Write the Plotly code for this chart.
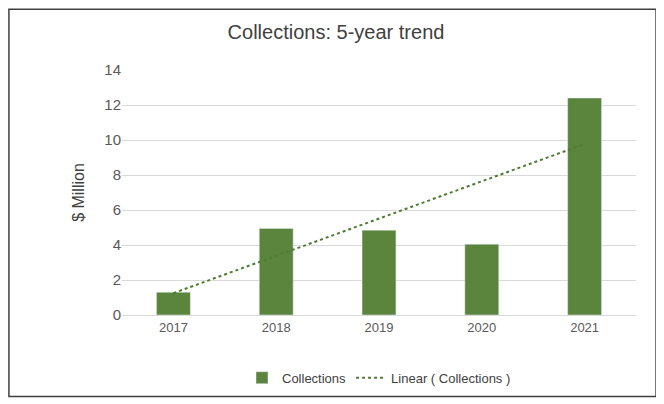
import numpy as np
import plotly.graph_objects as go

years = ["2017", "2018", "2019", "2020", "2021"]
collections = [1.3, 4.95, 4.85, 4.05, 12.4]

# least-squares trend over the bar values, like the spreadsheet's linear trendline
idx = np.arange(len(years))
slope, icpt = np.polyfit(idx, collections, 1)
trend = slope * idx + icpt

green = "#5B843D"
font = "Liberation Sans"

fig = go.Figure()
fig.add_trace(go.Bar(x=years, y=collections, name="Collections",
                     marker_color=green))
fig.add_trace(go.Scatter(x=years, y=trend, mode="lines",
                         name="Linear ( Collections )",
                         line=dict(color="#4E7A32", width=2, dash="dot")))

fig.update_layout(
    width=656, height=396,
    margin=dict(l=114, r=28, t=62, b=88),
    paper_bgcolor="white", plot_bgcolor="white",
    font=dict(family=font, color="#595959", size=13),
    title=dict(text="Collections: 5-year trend", x=0.5, xanchor="center",
               y=0.939, yanchor="middle",
               font=dict(size=20, color="#404040")),
    bargap=0.67,
    showlegend=True,
    legend=dict(orientation="h", x=0.5, xanchor="center", y=-0.19,
                yanchor="top", font=dict(size=13, color="#404040")),
    xaxis=dict(showline=True, linecolor="#D9D9D9", ticks=""),
    yaxis=dict(range=[0, 14], dtick=2, gridcolor="#D9D9D9",
               zeroline=False, tickfont=dict(size=15),
               title=dict(text="$ Million", font=dict(size=16, color="#404040"))),
    shapes=[dict(type="rect", xref="paper", yref="paper",
                 x0=-0.22, x1=1.039, y0=-0.333, y1=1.248,
                 line=dict(color="#404040", width=1.5))],
)

fig.write_html("out.html")
